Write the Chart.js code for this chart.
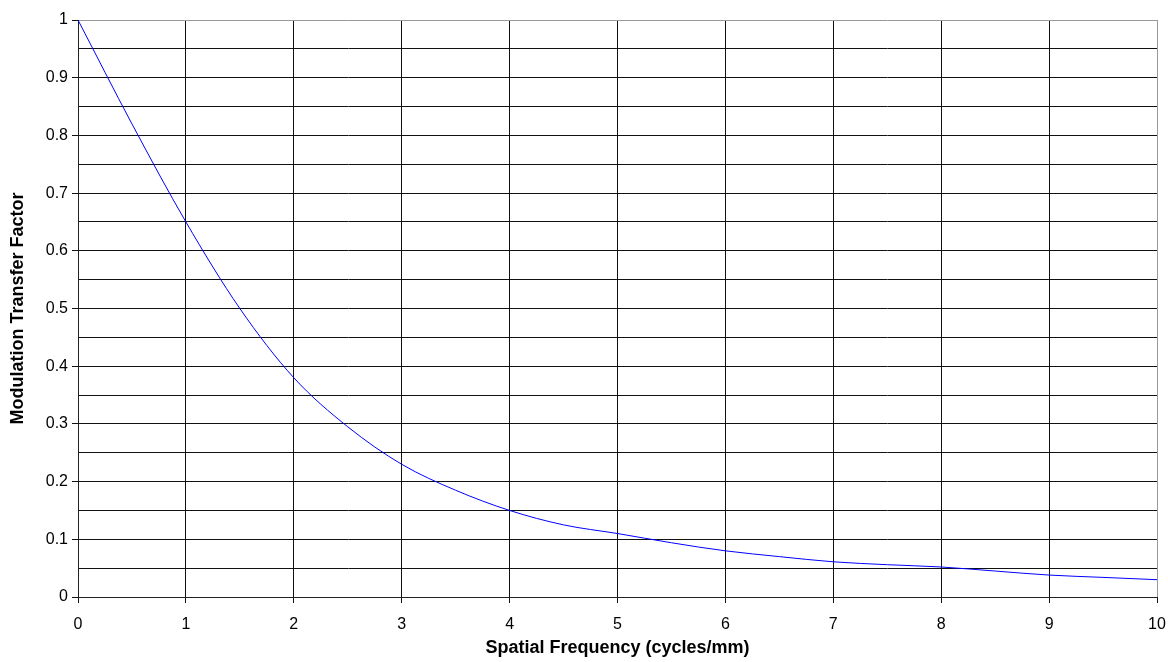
<!DOCTYPE html>
<html>
<head>
<meta charset="utf-8">
<script src="https://cdn.jsdelivr.net/npm/chart.js@4"></script>
<style>
  html, body { margin: 0; padding: 0; background: #fff; }
  #wrap { width: 1168px; height: 662px; }
</style>
</head>
<body>
<div id="wrap"><canvas id="myChart"></canvas></div>
<script>
// values
const frequency = [0, 0.5, 1, 1.5, 2, 2.5, 3, 3.5, 4, 4.5, 5, 5.5, 6, 6.5, 7, 7.5, 8, 8.5, 9, 9.5, 10]
const mtf = [1, 0.82, 0.65, 0.5, 0.38, 0.295, 0.23, 0.185, 0.15, 0.125, 0.11, 0.094, 0.08, 0.07, 0.061, 0.056, 0.052, 0.045, 0.038, 0.034, 0.03]

const xTitle = 'Spatial Frequency (cycles/mm)'
const yTitle = 'Modulation Transfer Factor'

const font = { family: "'Liberation Sans', Arial, sans-serif", size: 16 }
const boldFont = { family: "'Liberation Sans', Arial, sans-serif", size: 18, weight: 'bold', lineHeight: 1 }

const ctx = document.getElementById('myChart').getContext('2d')

const points = frequency.map((f, i) => ({ x: f, y: mtf[i] }))

const myChart = new Chart(ctx, {
  type: 'line',
  data: {
    datasets: [{
      label: 'MTF',
      data: points,
      borderColor: '#0000ff',
      borderWidth: 1,
      pointRadius: 0,
      cubicInterpolationMode: 'monotone',
      fill: false
    }]
  },
  options: {
    responsive: true,
    maintainAspectRatio: false,
    animation: false,
    layout: { padding: { top: 20, right: 11, left: 0, bottom: 0 } },
    plugins: { legend: { display: false }, tooltip: { enabled: false } },
    scales: {
      x: {
        type: 'linear',
        min: 0,
        max: 10,
        afterFit: s => { s.height = 65; s.paddingLeft = 0; s.paddingRight = 0 },
        border: { color: '#222', width: 1 },
        grid: {
          color: c => c.tick && c.tick.value === 10 ? '#999' : '#111',
          tickLength: 6,
          tickColor: '#111'
        },
        ticks: { stepSize: 1, color: '#000', font: font, padding: 12, maxRotation: 0 },
        title: { display: true, text: xTitle, color: '#000', font: boldFont, padding: { top: 0, bottom: 5 } }
      },
      y: {
        min: 0,
        max: 1,
        afterFit: s => { s.width = 78 },
        border: { color: '#222', width: 1 },
        grid: {
          color: c => c.tick && Math.abs(c.tick.value - 1) < 1e-6 ? '#999' : '#111',
          tickLength: 6,
          tickColor: c => c.index % 2 === 0 ? '#111' : 'rgba(0,0,0,0)'
        },
        ticks: {
          stepSize: 0.05,
          color: '#000',
          font: font,
          padding: 4,
          autoSkip: false,
          callback: (v, i) => i % 2 === 0 ? String(Math.round(v * 10) / 10) : ''
        },
        title: { display: true, text: yTitle, color: '#000', font: boldFont, padding: { top: 9, bottom: 0 } }
      }
    }
  }
})
</script>
</body>
</html>
